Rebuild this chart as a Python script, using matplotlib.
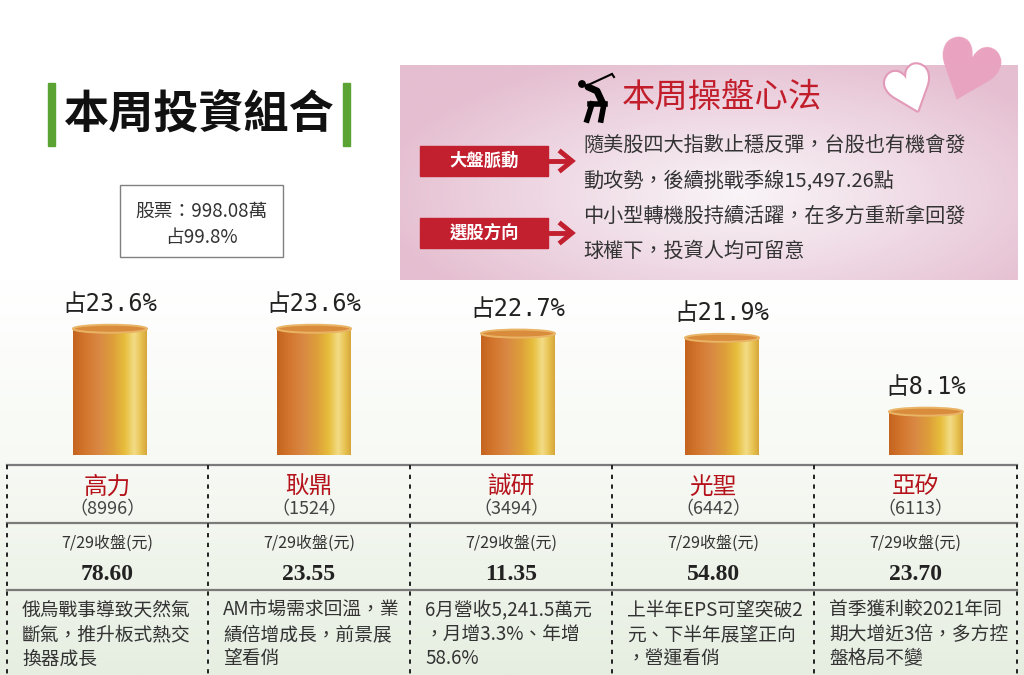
import numpy as np
import matplotlib
matplotlib.use('Agg')
import matplotlib.pyplot as plt
from matplotlib.colors import LinearSegmentedColormap
from matplotlib.patches import Rectangle, Ellipse, Circle
import matplotlib.patheffects as pe

plt.rcParams['font.family'] = ['Noto Sans CJK TC', 'DejaVu Sans']

# ---------------- data ----------------
names = ['高力', '耿鼎', '誠研', '光聖', '亞矽']
codes = ['8996', '1524', '3494', '6442', '6113']
shares = [23.6, 23.6, 22.7, 21.9, 8.1]
closes = ['78.60', '23.55', '11.35', '54.80', '23.70']
close_label = '7/29收盤(元)'
notes = [
    ['俄烏戰事導致天然氣', '斷氣，推升板式熱交', '換器成長'],
    ['AM市場需求回溫，業', '績倍增成長，前景展', '望看俏'],
    ['6月營收5,241.5萬元', '，月增3.3%、年增', '58.6%'],
    ['上半年EPS可望突破2', '元、下半年展望正向', '，營運看俏'],
    ['首季獲利較2021年同', '期大增近3倍，多方控', '盤格局不變'],
]
title = '本周投資組合'
stock_total = '股票：998.08萬'
stock_share = '占99.8%'
panel_title = '本周操盤心法'
tags = ['大盤脈動', '選股方向']
tag_lines = [
    ['隨美股四大指數止穩反彈，台股也有機會發', '動攻勢，後續挑戰季線15,497.26點'],
    ['中小型轉機股持續活躍，在多方重新拿回發', '球權下，投資人均可留意'],
]

W, H = 1024, 675
fig = plt.figure(figsize=(W / 100, H / 100), dpi=100)
bg = fig.add_axes([0, 0, 1, 1], zorder=0)
bg.set_xlim(0, W)
bg.set_ylim(H, 0)
bg.axis('off')

# background gradient (white -> pale green)
grad = np.linspace(0, 1, 256)[:, None]
cmap_bg = LinearSegmentedColormap.from_list('bg', ['#ffffff', '#f6f9f3', '#e6eee1'])
bg.imshow(grad, extent=(0, W, H, 280), cmap=cmap_bg, aspect='auto', zorder=0)

# title
for xb in (48, 343):
    bg.add_patch(Rectangle((xb, 83), 7, 63, color='#5ba434', zorder=2))
bg.text(199, 116, title, fontsize=32.5, fontweight='bold', color='#111111',
        ha='center', va='center', zorder=3)

# stock box
bg.add_patch(Rectangle((120, 185), 163, 72, facecolor='white', edgecolor='#808080',
                       lw=1.0, zorder=2))
bg.text(201, 211, stock_total, fontsize=13.5, color='#333333', ha='center', va='center', zorder=3)
bg.text(201, 237, stock_share, fontsize=13.5, color='#333333', ha='center', va='center', zorder=3)

# pink panel
yy, xx = np.mgrid[0:1:150j, 0:1:400j]
d = np.sqrt(((xx - 0.55) / 0.6) ** 2 + ((yy - 0.6) / 0.7) ** 2)
cmap_pink = LinearSegmentedColormap.from_list('pk', ['#f9f4f7', '#efdae5', '#e5bed0'])
bg.imshow(d, extent=(400, 1018, 280, 65), cmap=cmap_pink, vmin=0, vmax=1,
          aspect='auto', zorder=1)

# hearts
bg.text(912, 95, '♥', fontsize=44, color='white', ha='center', va='center', rotation=20,
        family='DejaVu Sans', zorder=3,
        path_effects=[pe.withStroke(linewidth=3, foreground='#e39ab8')])
bg.text(964, 80, '♥', fontsize=60, color='#e9a3c0', ha='center', va='center', rotation=-20,
        family='DejaVu Sans', zorder=4)

# golfer icon
bg.plot([586, 612], [86, 74], color='black', lw=1.5, zorder=3, solid_capstyle='round')
bg.plot([612, 614], [74, 77], color='black', lw=1.5, zorder=3)
bg.add_patch(Circle((582, 84), 3.2, color='black', zorder=3))
bg.plot([588, 597, 603], [87, 91, 104], color='black', lw=5, zorder=3, solid_capstyle='round')
bg.plot([590, 605], [104, 104], color='black', lw=4, zorder=3)
bg.plot([592, 587], [104, 120], color='black', lw=4, zorder=3)
bg.plot([604, 601], [104, 120], color='black', lw=4, zorder=3)
bg.text(622, 97, panel_title, fontsize=24, color='#c21d2b', ha='left', va='center', zorder=3)

# tags and lines
tag_y = [161, 233]
line_y = [[145, 181], [216, 251]]
for ty, tag, lines, ly in zip(tag_y, tags, tag_lines, line_y):
    bg.add_patch(Rectangle((420, ty - 15), 128, 30, color='#c21f2f', zorder=2))
    bg.text(484, ty, tag, fontsize=12.5, fontweight='bold', color='white',
            ha='center', va='center', zorder=3)
    bg.plot([548, 568], [ty, ty], color='#c21f2f', lw=3.5, zorder=2)
    bg.plot([561, 572, 561], [ty - 9, ty, ty + 9], color='#c21f2f', lw=3.5, zorder=2,
            solid_joinstyle='miter')
    for t, y in zip(lines, ly):
        bg.text(583, y, t, fontsize=14.5, color='#333333', ha='left', va='center', zorder=3)

# ---------------- cylinders ----------------
px_per_unit = 5.35
base_px = 455
bx = fig.add_axes([8 / W, (H - base_px) / H, 1020 / W, 30 * px_per_unit / H], zorder=1)
bx.set_xlim(-0.5, 4.5)
bx.set_ylim(0, 30)
bx.axis('off')
bx.patch.set_alpha(0)

xs = np.arange(len(shares))
bw = 74 / 204
eh = 8 / px_per_unit
bars = bx.bar(xs, shares, width=bw, color='none', edgecolor='none')
cyl = LinearSegmentedColormap.from_list('cyl', [
    (0.0, '#c4641f'), (0.15, '#d2742c'), (0.35, '#d98844'), (0.55, '#dea03a'),
    (0.7, '#e7be3c'), (0.83, '#f3dc86'), (0.93, '#e6c04e'), (1.0, '#d6a53a')])
g = np.linspace(0, 1, 256)[None, :]
for b, v, x in zip(bars, shares, xs):
    im = bx.imshow(g, extent=(x - bw / 2, x + bw / 2, 0, v), cmap=cyl, aspect='auto',
                   zorder=2, interpolation='bilinear')
    im.set_clip_path(b)
    bot = Ellipse((x, 0), bw, eh, facecolor='none', edgecolor='none')
    bx.add_patch(bot)
    im2 = bx.imshow(g, extent=(x - bw / 2, x + bw / 2, -eh, eh), cmap=cyl, aspect='auto',
                    zorder=2, interpolation='bilinear')
    im2.set_clip_path(bot)
    bx.add_patch(Ellipse((x, v), bw, eh, facecolor='#d98c3c', edgecolor='#e9b465',
                         lw=1.4, zorder=3))
    bx.annotate(f'占{v}%', xy=(x, v), xytext=(0, 12.5), textcoords='offset points',
                ha='center', va='baseline', fontsize=17, color='#222222',
                family=['DejaVu Sans Mono', 'Noto Sans CJK TC'], zorder=4)
bx.set_xlim(-0.5, 4.5)
bx.set_ylim(0, 30)

# ---------------- table ----------------
col_edges = [7, 208, 410, 612, 814, 1017]
for y in (465, 523, 590):
    bg.plot([7, 1017], [y, y], color='#7a7a7a', lw=1.6, zorder=3)
for x in col_edges:
    bg.plot([x, x], [465, 675], color='#222222', lw=1.4, dashes=(2.2, 2.8), zorder=3)
for i in range(len(names)):
    cx = (col_edges[i] + col_edges[i + 1]) / 2
    bg.text(cx, 487, names[i], fontsize=17, color='#b5121b', ha='center', va='center', zorder=4)
    bg.text(cx, 509, f'（{codes[i]}）', fontsize=13, color='#444444', ha='center',
            va='center', zorder=4)
    bg.text(cx, 543, close_label, fontsize=11.5, color='#333333', ha='center',
            va='center', zorder=4)
    bg.text(cx, 575, closes[i], fontsize=17, fontweight='bold', color='#222222',
            family='Liberation Serif', ha='center', va='center', zorder=4)
    for j, t in enumerate(notes[i]):
        bg.text(col_edges[i] + 15, 610 + 24.5 * j, t, fontsize=13.5, color='#333333',
                ha='left', va='center', zorder=4)

fig.savefig('out.png', dpi=100)
